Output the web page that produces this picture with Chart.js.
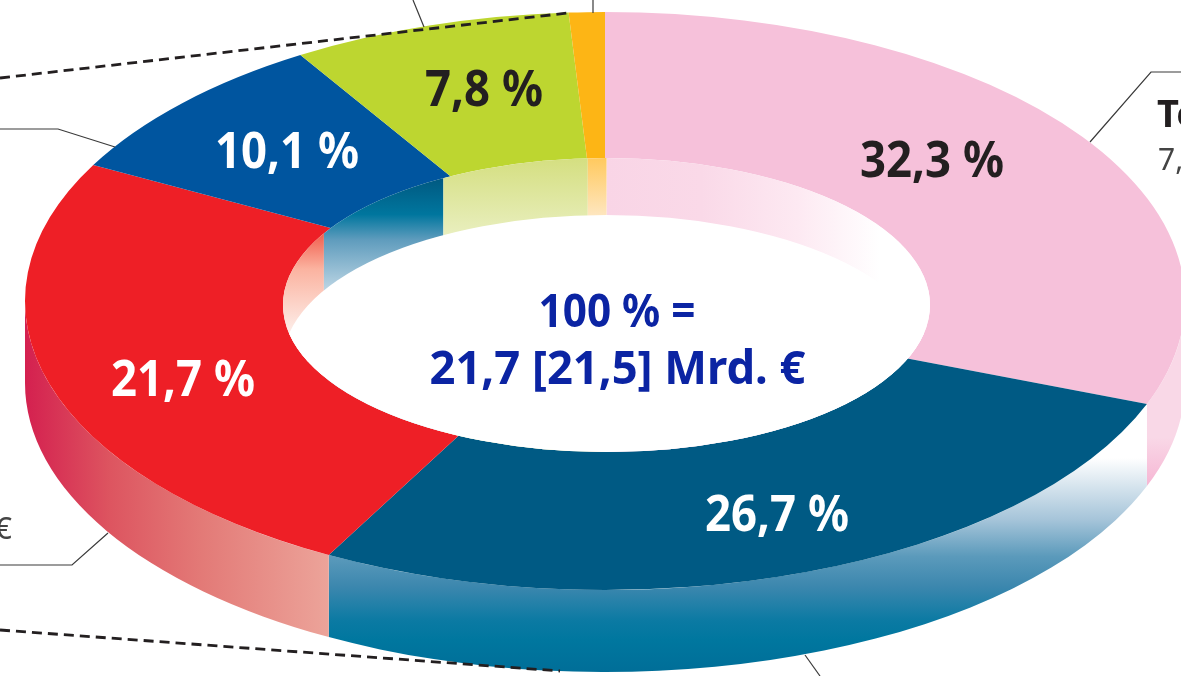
<!DOCTYPE html>
<html>
<head>
<meta charset="utf-8">
<title>Donut</title>
<script src="https://cdn.jsdelivr.net/npm/chart.js@4"></script>
<style>
  html, body { margin: 0; padding: 0; background: #fff; overflow: hidden; }
  canvas { display: block; }
</style>
</head>
<body>
<canvas id="donutChart" width="1181" height="676"></canvas>
<script>
// Printed labels, as they stand on the slices (the orange sliver has none)
const sliceNames = ['Te', 'Blue', 'Red', 'Royal', 'Green', 'Orange'];
const printedLabels = ['32,3 %', '26,7 %', '21,7 %', '10,1 %', '7,8 %', ''];
// Slice sizes: the artwork is not exactly
// proportional to the printed numbers, so these differ a little from them
const sliceShares = [30.8, 27.1, 24.9, 8.4, 7.8, 1.0];
const sliceColors = ['#f6c1da', '#005a84', '#ee1f26', '#00559f', '#bdd630', '#fdb515'];
const labelColors = ['#231f20', '#ffffff', '#ffffff', '#ffffff', '#231f20', '#231f20'];
const centerLines = ['100 % =', '21,7 [21,5] Mrd. €'];

// Ellipse geometry of the tilted ring
const cx = 605, cy = 301, rx = 580, ry = 289, depth = 82;
const holeX = 606.5, holeY = 305, holeRx = 323.5, holeRy = 147, holeDepth = 57;

// Label anchors (centre x, baseline y)
const labelX = [932, 777, 183, 287, 484];
const labelY = [177, 531, 396, 168, 106];

function vGrad(ctx, y0, y1, stops) {
  const g = ctx.createLinearGradient(0, y0, 0, y1);
  stops.forEach(s => g.addColorStop(s[0], s[1]));
  return g;
}
function hGrad(ctx, x0, x1, stops) {
  const g = ctx.createLinearGradient(x0, 0, x1, 0);
  stops.forEach(s => g.addColorStop(s[0], s[1]));
  return g;
}

// Outer side of one slice, only the part facing the viewer
function outerWall(ctx, a0, a1, fill) {
  const lo = Math.max(a0, 0), hi = Math.min(a1, Math.PI);
  if (hi <= lo) return;
  ctx.beginPath();
  ctx.ellipse(cx, cy, rx, ry, 0, lo, hi);
  ctx.ellipse(cx, cy + depth, rx, ry, 0, hi, lo, true);
  ctx.closePath();
  ctx.fillStyle = fill;
  ctx.fill();
}

// where a slice edge meets the far rim of the hole, walls sit a bit inwards in the artwork
function wallX(a) {
  const c = Math.cos(a);
  return holeX + holeRx * c * (0.916 + 0.084 * Math.abs(c));
}

// x range of a slice along the far (upper) edge of the hole
function upperRange(a0, a1) {
  const windows = [[-Math.PI, 0], [Math.PI, 2 * Math.PI]];
  for (const w of windows) {
    const lo = Math.max(a0, w[0]), hi = Math.min(a1, w[1]);
    if (hi > lo) return [wallX(lo), wallX(hi)];
  }
  return null;
}

function text(ctx, str, x, y, font, color, squeeze, align) {
  ctx.save();
  ctx.font = font;
  ctx.fillStyle = color;
  ctx.textAlign = align || 'center';
  ctx.textBaseline = 'alphabetic';
  ctx.translate(x, y);
  ctx.scale(squeeze || 1, 1);
  ctx.fillText(str, 0, 0);
  ctx.restore();
}

function line(ctx, pts, width, color, dash) {
  ctx.beginPath();
  pts.forEach((p, i) => i ? ctx.lineTo(p[0], p[1]) : ctx.moveTo(p[0], p[1]));
  ctx.lineWidth = width;
  ctx.strokeStyle = color;
  ctx.setLineDash(dash || []);
  ctx.stroke();
  ctx.setLineDash([]);
}

const ringPlugin = {
  id: 'ring',
  beforeDatasetsDraw(chart) {
    const ctx = chart.ctx;
    const arcs = chart.getDatasetMeta(0).data;
    ctx.save();
    // pink side only shows right of x=1146
    ctx.save();
    ctx.beginPath();
    ctx.rect(1146, 0, 100, 676);
    ctx.clip();
    outerWall(ctx, arcs[0].startAngle, arcs[0].endAngle,
      vGrad(ctx, 397, 487, [[0, '#f9d8e7'], [0.45, '#f9d8e7'], [1, '#f6b5d3']]));
    ctx.restore();
    outerWall(ctx, arcs[1].startAngle, arcs[1].endAngle,
      vGrad(ctx, 458, 672, [[0, '#ffffff'], [0.29, '#a5c4d9'], [0.46, '#5b9abb'], [0.6, '#3c87ae'], [0.76, '#0b7aa3'], [0.85, '#00779f'], [1, '#006e98']]));
    outerWall(ctx, arcs[2].startAngle, arcs[2].endAngle,
      hGrad(ctx, 25, 330, [[0, '#d4204f'], [0.28, '#dd5560'], [0.58, '#e37a77'], [1, '#eca49a']]));
    ctx.restore();
  },
  beforeDatasetDraw(chart) {
    // squash the round doughnut into the tilted ellipse
    const ctx = chart.ctx;
    const arc = chart.getDatasetMeta(0).data[0];
    ctx.save();
    ctx.translate(cx, cy);
    ctx.scale(1, ry / rx);
    ctx.translate(-arc.x, -arc.y);
  },
  afterDatasetDraw(chart) {
    chart.ctx.restore();
  },
  afterDatasetsDraw(chart) {
    const ctx = chart.ctx;
    const arcs = chart.getDatasetMeta(0).data;

    // hole: white floor with the inner side of the far slices
    ctx.save();
    ctx.beginPath();
    ctx.ellipse(holeX, holeY, holeRx, holeRy, 0, 0, 2 * Math.PI);
    ctx.fillStyle = '#fff';
    ctx.fill();
    ctx.clip();
    const innerFills = [
      hGrad(ctx, 605, 880, [[0, '#f9d5e6'], [0.35, '#fad9e8'], [0.7, '#fde9f2'], [1, '#ffffff']]),
      '#ffffff',
      vGrad(ctx, 225, 335, [[0, '#ee4a3a'], [0.4, '#fbb3a0'], [1, '#fdf0ec']]),
      vGrad(ctx, 180, 295, [[0, '#005a82'], [0.3, '#00769e'], [0.52, '#5f9cbd'], [1, '#c5dbe8']]),
      vGrad(ctx, 160, 236, [[0, '#d5df82'], [1, '#e9efbf']]),
      vGrad(ctx, 158, 216, [[0, '#ffc95e'], [1, '#fee6c0']])
    ];
    arcs.forEach((arc, i) => {
      const r = upperRange(arc.startAngle, arc.endAngle);
      if (!r) return;
      ctx.fillStyle = innerFills[i];
      ctx.fillRect(Math.min(r[0], r[1]), 0, Math.abs(r[1] - r[0]), 676);
    });
    ctx.beginPath();
    ctx.ellipse(holeX, holeY + holeDepth, holeRx, holeRy, 0, 0, 2 * Math.PI);
    ctx.fillStyle = '#fff';
    ctx.fill();
    ctx.restore();

    // leader lines
    const leader = '#3a3a3a';
    line(ctx, [[413, 0], [424, 27]], 1.2, leader);
    line(ctx, [[593, 0], [593, 13]], 1.2, leader);
    line(ctx, [[0, 129], [58, 129], [115, 147]], 1.2, leader);
    line(ctx, [[1181, 72], [1151, 72], [1090, 142]], 1.2, leader);
    line(ctx, [[0, 565], [72, 565], [108, 533]], 1.2, leader);
    line(ctx, [[805, 655], [820, 676]], 1.2, leader);

    // dashed guide lines
    line(ctx, [[0, 78], [568, 13]], 2.8, '#231f20', [10, 6]);
    line(ctx, [[0, 630], [560, 671]], 2.8, '#231f20', [10, 6]);

    // slice labels
    labelX.forEach((x, i) => {
      text(ctx, printedLabels[i], x, labelY[i], 'bold 50px "Noto Sans"', labelColors[i], 0.91);
    });

    // centre text
    text(ctx, centerLines[0], 617, 327, 'bold 46px "Noto Sans"', '#0b24a3', 0.92);
    text(ctx, centerLines[1], 617.5, 384, 'bold 46px "Noto Sans"', '#0b24a3', 0.985);

    // callout text cut off by the crop
    text(ctx, sliceNames[0], 1157, 127, 'bold 38px "Noto Sans"', '#231f20', 1, 'left');
    text(ctx, '7,', 1158, 170, '30px "Noto Sans"', '#444444', 1, 'left');
    text(ctx, '€', 12, 539, '30px "Noto Sans"', '#444444', 1, 'right');
  }
};

new Chart(document.getElementById('donutChart'), {
  type: 'doughnut',
  data: {
    labels: sliceNames,
    datasets: [{
      data: sliceShares,
      backgroundColor: sliceColors,
      borderWidth: 0,
      clip: false
    }]
  },
  options: {
    responsive: false,
    animation: false,
    radius: rx,
    cutout: '49%',
    layout: { padding: 0 },
    plugins: {
      legend: { display: false },
      tooltip: { enabled: false }
    }
  },
  plugins: [ringPlugin]
});
</script>
</body>
</html>
